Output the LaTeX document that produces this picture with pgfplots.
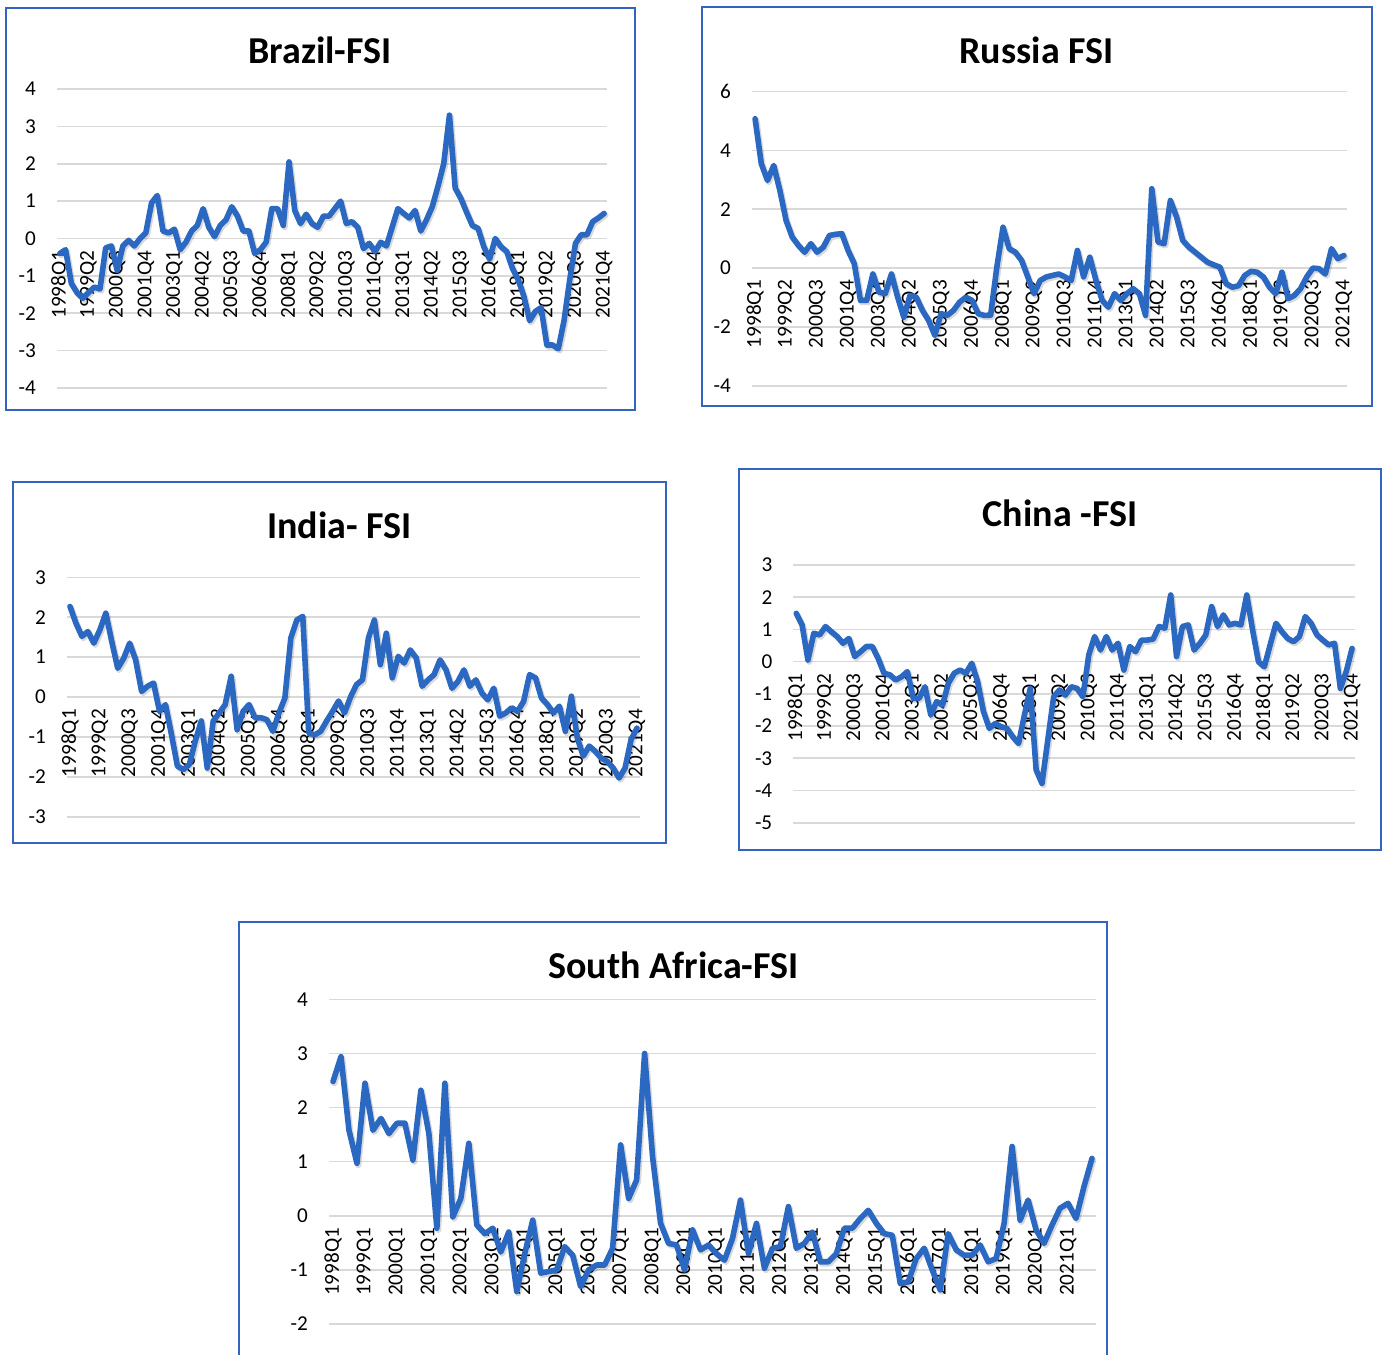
\documentclass[border=0pt]{standalone}
\usepackage{fontspec}
\setmainfont{Carlito}
\usepackage{pgfplots}
\usepackage{pgfplotstable}
\pgfplotsset{compat=1.18}
\definecolor{lineblue}{RGB}{42,104,194}
\definecolor{frameblue}{RGB}{52,100,192}
\definecolor{gridgray}{RGB}{217,217,217}
\pgfplotstableread{
i br ru in cn sa
0 -0.4 5.08 2.27 1.5 2.48
1 -0.3 3.55 1.85 1.14 2.94
2 -1.2 2.98 1.52 0.05 1.58
3 -1.45 3.49 1.64 0.88 0.97
4 -1.6 2.64 1.35 0.83 2.45
5 -1.45 1.62 1.68 1.09 1.58
6 -1.3 1.05 2.1 0.93 1.8
7 -1.35 0.77 1.39 0.78 1.52
8 -0.25 0.54 0.72 0.57 1.71
9 -0.2 0.83 0.97 0.72 1.71
10 -0.85 0.54 1.35 0.16 1.03
11 -0.2 0.71 0.93 0.31 2.32
12 -0.05 1.11 0.14 0.47 1.52
13 -0.2 1.15 0.27 0.47 -0.23
14 0.0 1.17 0.35 0.1 2.45
15 0.15 0.6 -0.36 -0.36 -0.02
16 0.95 0.15 -0.19 -0.41 0.32
17 1.15 -1.1 -0.94 -0.57 1.34
18 0.2 -1.1 -1.73 -0.47 -0.17
19 0.15 -0.2 -1.82 -0.31 -0.33
20 0.25 -0.82 -1.69 -1.14 -0.23
21 -0.3 -0.87 -1.1 -1.14 -0.67
22 -0.1 -0.2 -0.6 -0.78 -0.3
23 0.2 -0.99 -1.78 -1.66 -1.4
24 0.35 -1.67 -0.6 -1.24 -0.7
25 0.8 -0.93 -0.4 -1.35 -0.08
26 0.3 -0.99 -0.19 -0.67 -1.06
27 0.05 -1.44 0.52 -0.36 -1.03
28 0.35 -1.78 -0.82 -0.26 -1.0
29 0.5 -2.29 -0.36 -0.36 -0.57
30 0.85 -1.55 -0.19 -0.05 -0.73
31 0.6 -1.61 -0.52 -0.62 -1.31
32 0.2 -1.44 -0.52 -1.55 -1.0
33 0.2 -1.16 -0.57 -2.07 -0.91
34 -0.4 -0.99 -0.86 -1.92 -0.91
35 -0.3 -1.1 -0.4 -2.02 -0.6
36 -0.1 -1.55 -0.03 -2.07 1.31
37 0.8 -1.61 1.48 -2.33 0.32
38 0.8 -1.6 1.93 -2.54 0.66
39 0.35 0.03 2.02 -1.66 3.0
40 2.05 1.39 -0.9 -0.83 1.09
41 0.75 0.66 -0.95 -3.36 -0.14
42 0.4 0.54 -0.86 -3.78 -0.51
43 0.65 0.26 -0.6 -2.43 -0.54
44 0.4 -0.3 -0.36 -1.09 -1.0
45 0.3 -0.87 -0.1 -0.88 -0.26
46 0.6 -0.42 -0.4 -1.04 -0.63
47 0.6 -0.3 0.0 -0.78 -0.54
48 0.8 -0.25 0.31 -0.83 -0.7
49 1.0 -0.2 0.43 -1.09 -0.82
50 0.4 -0.3 1.48 0.21 -0.42
51 0.45 -0.42 1.93 0.78 0.29
52 0.3 0.6 0.81 0.36 -0.7
53 -0.27 -0.3 1.6 0.78 -0.14
54 -0.13 0.37 0.48 0.36 -0.97
55 -0.35 -0.42 1.02 0.57 -0.6
56 -0.1 -1.1 0.85 -0.26 -0.57
57 -0.2 -1.33 1.18 0.47 0.17
58 0.3 -0.87 0.98 0.31 -0.6
59 0.8 -1.1 0.27 0.67 -0.51
60 0.67 -0.87 0.43 0.67 -0.3
61 0.55 -0.7 0.56 0.7 -0.85
62 0.75 -0.87 0.93 1.09 -0.85
63 0.2 -1.61 0.68 1.04 -0.7
64 0.5 2.7 0.22 2.07 -0.23
65 0.85 0.89 0.39 0.16 -0.23
66 1.4 0.83 0.68 1.09 -0.05
67 2.0 2.3 0.27 1.14 0.1
68 3.3 1.74 0.43 0.36 -0.14
69 1.35 0.94 0.1 0.57 -0.33
70 1.07 0.71 -0.07 0.83 -0.36
71 0.7 0.54 0.22 1.71 -1.25
72 0.35 0.37 -0.48 1.09 -1.22
73 0.27 0.2 -0.4 1.45 -0.79
74 -0.22 0.11 -0.27 1.14 -0.6
75 -0.55 0.03 -0.36 1.19 -1.0
76 0.0 -0.53 -0.11 1.14 -1.37
77 -0.22 -0.65 0.56 2.07 -0.33
78 -0.35 -0.6 0.48 0.98 -0.63
79 -0.8 -0.25 -0.03 0.0 -0.73
80 -1.1 -0.11 -0.19 -0.16 -0.73
81 -1.55 -0.14 -0.4 0.52 -0.54
82 -2.2 -0.3 -0.23 1.19 -0.85
83 -1.95 -0.65 -0.86 0.93 -0.79
84 -1.85 -0.87 0.02 0.72 -0.14
85 -2.85 -0.14 -1.03 0.62 1.28
86 -2.85 -1.04 -1.48 0.78 -0.08
87 -2.95 -0.93 -1.23 1.4 0.29
88 -2.2 -0.7 -1.36 1.19 -0.26
89 -1.1 -0.3 -1.53 0.83 -0.51
90 -0.13 0.0 -1.61 0.67 -0.17
91 0.1 -0.02 -1.78 0.52 0.14
92 0.1 -0.2 -2.03 0.57 0.23
93 0.45 0.66 -1.78 -0.83 -0.05
94 0.55 0.32 -1.07 -0.31 0.54
95 0.67 0.43 -0.78 0.41 1.06
}\fsidata
\pgfplotsset{
  fsi/.style={
    scale only axis,
    anchor=south west,
    xmin=-0.5, xmax=95.5,
    axis x line=middle, axis y line=left,
    axis line style={draw=none},
    major tick length=0pt,
    ymajorgrids, grid style={gridgray, line width=0.8pt},
    tick label style={font=\fontsize{10.6}{12}\selectfont},
    /pgf/number format/assume math mode=true,
    xticklabel style={rotate=90, anchor=east},
    xticklabel shift=2.5pt,
    yticklabel style={xshift=-7pt},
    xtick={0,5,...,95},
    xticklabels={1998Q1,1999Q2,2000Q3,2001Q4,2003Q1,2004Q2,2005Q3,2006Q4,2008Q1,2009Q2,2010Q3,2011Q4,2013Q1,2014Q2,2015Q3,2016Q4,2018Q1,2019Q2,2020Q3,2021Q4},
    clip=false,
  },
  fsiline/.style={lineblue, line width=2.8pt, line join=round, line cap=round},
  fsishadow/.style={black, opacity=0.15, line width=3pt, line join=round, line cap=round, xshift=0.7pt, yshift=-0.9pt},
}
\tikzset{title/.style={font=\fontsize{19}{22}\selectfont\bfseries}}
\begin{document}
\begin{tikzpicture}
\useasboundingbox (0,0) rectangle (693pt,-677pt);
\fill[white] (0,0) rectangle (693pt,-677pt);
% frames
\draw[frameblue, line width=1.25pt] (3pt,-4pt) rectangle (317.5pt,-205pt);
\draw[frameblue, line width=1.25pt] (351pt,-3.5pt) rectangle (686pt,-203pt);
\draw[frameblue, line width=1.25pt] (6.5pt,-241pt) rectangle (333pt,-421.5pt);
\draw[frameblue, line width=1.25pt] (369.5pt,-234.5pt) rectangle (690.5pt,-425pt);
\draw[frameblue, line width=1.25pt] (119.5pt,-461pt) rectangle (553.5pt,-690pt);
% titles
\node[title] at (160pt,-25pt) {Brazil-FSI};
\node[title] at (518.25pt,-25pt) {Russia FSI};
\node[title] at (169.75pt,-262.5pt) {India- FSI};
\node[title] at (530pt,-256.5pt) {China -FSI};
\node[title] at (336.75pt,-482.5pt) {South Africa-FSI};
% Brazil
\begin{axis}[fsi, at={(28.5pt,-194pt)}, width=275pt, height=149.5pt, ymin=-4, ymax=4, ytick={-4,-3,...,4}]
\addplot[fsishadow] table[x=i,y=br]{\fsidata};
\addplot[fsiline] table[x=i,y=br]{\fsidata};
\end{axis}
% Russia
\begin{axis}[fsi, at={(376pt,-192.85pt)}, width=297.5pt, height=147pt, ymin=-4, ymax=6, ytick={-4,-2,...,6}]
\addplot[fsishadow] table[x=i,y=ru]{\fsidata};
\addplot[fsiline] table[x=i,y=ru]{\fsidata};
\end{axis}
% India
\begin{axis}[fsi, at={(33.5pt,-408.35pt)}, width=286.5pt, height=119.7pt, ymin=-3, ymax=3, ytick={-3,-2,...,3}]
\addplot[fsishadow] table[x=i,y=in]{\fsidata};
\addplot[fsiline] table[x=i,y=in]{\fsidata};
\end{axis}
% China
\begin{axis}[fsi, at={(396.65pt,-411.35pt)}, width=280.85pt, height=128.85pt, ymin=-5, ymax=3, ytick={-5,-4,...,3}]
\addplot[fsishadow] table[x=i,y=cn]{\fsidata};
\addplot[fsiline] table[x=i,y=cn]{\fsidata};
\end{axis}
% South Africa
\begin{axis}[fsi, at={(164.5pt,-662pt)}, width=383.5pt, height=162.35pt, ymin=-2, ymax=4, ytick={-2,-1,...,4},
  xtick={0,4,...,92},
  xticklabels={1998Q1,1999Q1,2000Q1,2001Q1,2002Q1,2003Q1,2004Q1,2005Q1,2006Q1,2007Q1,2008Q1,2009Q1,2010Q1,2011Q1,2012Q1,2013Q1,2014Q1,2015Q1,2016Q1,2017Q1,2018Q1,2019Q1,2020Q1,2021Q1}]
\addplot[fsishadow] table[x=i,y=sa]{\fsidata};
\addplot[fsiline] table[x=i,y=sa]{\fsidata};
\end{axis}
\end{tikzpicture}
\end{document}
